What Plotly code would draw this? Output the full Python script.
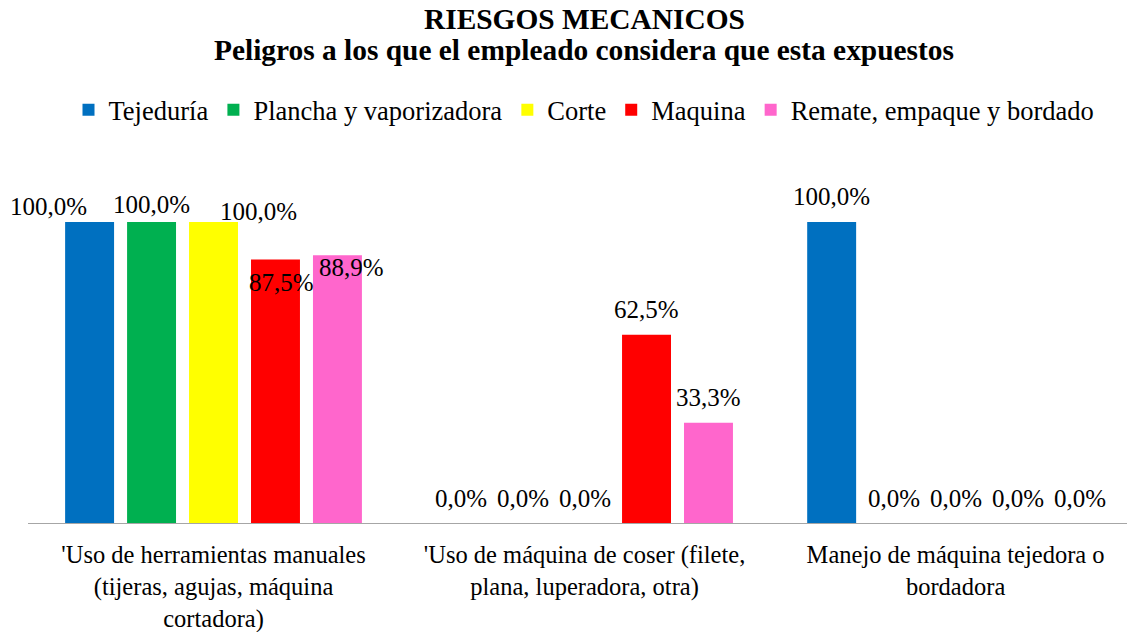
import plotly.graph_objects as go

categories = [
    "'Uso de herramientas manuales<br>(tijeras, agujas, máquina<br>cortadora)",
    "'Uso de máquina de coser (filete,<br>plana, luperadora, otra)",
    "Manejo de máquina tejedora o<br>bordadora",
]
series_names = ["Tejeduría", "Plancha y vaporizadora", "Corte", "Maquina", "Remate, empaque y bordado"]
tejeduria = [1.0, 0.0, 1.0]
plancha = [1.0, 0.0, 0.0]
corte = [1.0, 0.0, 0.0]
maquina = [0.875, 0.625, 0.0]
remate = [0.889, 0.333, 0.0]
colors = ["#0070C0", "#00B050", "#FFFF00", "#FF0000", "#FF66CC"]
title_lines = ["RIESGOS MECANICOS", "Peligros a los que el empleado considera que esta expuestos"]

# label nudges (pixels) for the crowded first category, as in the original chart
label_nudge = {
    (0, 0): (-41, 15), (1, 0): (0, 17), (2, 0): (45, 10),
    (3, 0): (6, -23), (4, 0): (14, -12),
}

FONT = "Liberation Serif"
x_idx = [0, 1, 2]
BARGAP = 0.165
n_series = len(series_names)
slot = (1 - BARGAP) / n_series

fig = go.Figure()
all_series = [tejeduria, plancha, corte, maquina, remate]
for si, (name, vals, col) in enumerate(zip(series_names, all_series, colors)):
    fig.add_trace(go.Bar(
        x=x_idx, y=vals, name=name,
        marker=dict(color=col, line=dict(width=0)),
        cliponaxis=False,
    ))
    for ci, v in enumerate(vals):
        dx, dy = label_nudge.get((si, ci), (0, 25))
        fig.add_annotation(
            x=x_idx[ci] + (si - (n_series - 1) / 2) * slot, y=v,
            text=f"{v*100:.1f}%".replace(".", ","),
            showarrow=False, xanchor="center", yanchor="middle",
            xshift=dx, yshift=dy,
            font=dict(family=FONT, size=25, color="black"),
        )

for yy, line in zip([1.3512, 1.268], title_lines):
    fig.add_annotation(
        text=f"<b>{line}</b>", xref="paper", yref="paper", x=0.5, y=yy,
        xanchor="center", yanchor="middle", showarrow=False,
        font=dict(family=FONT, size=29.4, color="black"),
    )

fig.update_layout(
    width=1135, height=632,
    paper_bgcolor="white", plot_bgcolor="white",
    barmode="group", bargap=BARGAP, bargroupgap=0.21,
    margin=dict(l=20, r=3, t=142, b=117, autoexpand=False),
    legend=dict(
        orientation="h", x=0.5, xanchor="center", y=1.107, yanchor="middle",
        font=dict(family=FONT, size=26.5, color="black"),
        itemwidth=30, traceorder="normal",
    ),
    font=dict(family=FONT, size=24, color="black"),
    xaxis=dict(
        tickmode="array", tickvals=x_idx, ticktext=categories,
        range=[-0.5, 2.497], automargin=False,
        showline=True, linecolor="#A6A6A6", linewidth=1,
        ticks="", showgrid=False, zeroline=False, ticklabelstandoff=10,
        tickfont=dict(family=FONT, size=24.5, color="black"),
    ),
    yaxis=dict(range=[0, 1.239], visible=False, showgrid=False, zeroline=False, automargin=False),
)

fig.write_html("out.html")
